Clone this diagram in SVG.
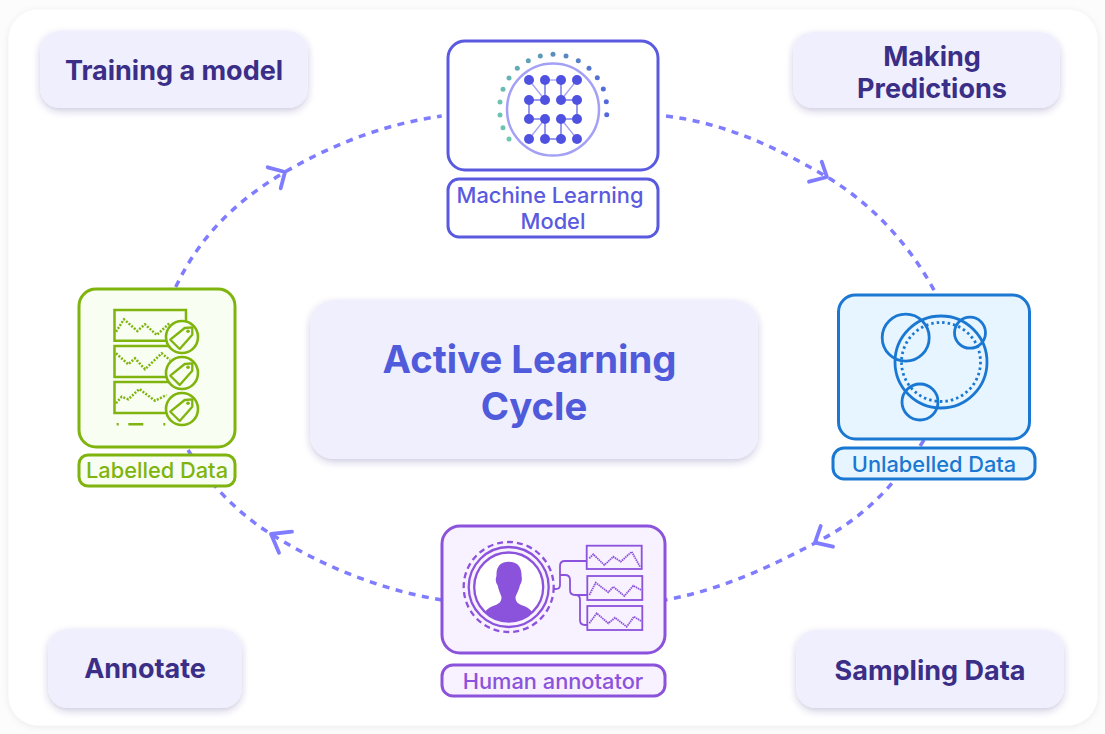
<svg xmlns="http://www.w3.org/2000/svg" xmlns:xlink="http://www.w3.org/1999/xlink" width="1105" height="734" viewBox="0 0 1105 734">
<style>
text{font-family:Inter,"Liberation Sans",sans-serif;text-anchor:middle}
.pill{fill:#F0EFFD;filter:url(#sh)}
.ptxt{font-size:27px;font-weight:700;fill:#3A2E87}
.ctxt{font-size:38.300px;font-weight:700;fill:#4F5BDB}
.lbl{font-size:21.800px;font-weight:500}
.arc{fill:none;stroke:#7F7CFF;stroke-width:3.500;stroke-dasharray:7 6.500}
.head{fill:none;stroke:#7F7CFF;stroke-width:3.800;stroke-linecap:round;stroke-linejoin:round}
.ml{fill:#fff;stroke:#5A5AE0;stroke-width:3}
.gr{fill:#F8FEF1;stroke:#7FB40E;stroke-width:3}
.bl{fill:#E6F5FF;stroke:#1A78D2;stroke-width:3}
.pu{fill:#F8F1FF;stroke:#8B52DB;stroke-width:3}
.gl{fill:none;stroke:#7FB40E;stroke-width:2.500}
.bc{fill:none;stroke:#1A78D2;stroke-width:2.800}
.pl{fill:none;stroke:#8B52DB;stroke-width:1.800}
.edge{stroke:#A3A0F5;stroke-width:1.300}
.edged{stroke:#6565E4;stroke-width:1.300}
.net{fill:#4F52E0}
</style>
<defs>
<filter id="sh" x="-10%" y="-15%" width="120%" height="135%"><feDropShadow dx="0" dy="3" stdDeviation="3.500" flood-color="#3A2E87" flood-opacity="0.25"/></filter>
<filter id="sf" x="-5%" y="-5%" width="110%" height="110%"><feDropShadow dx="0" dy="1" stdDeviation="3" flood-color="#000" flood-opacity="0.08"/></filter>
<g id="tag"><circle r="16" fill="#F8FEF1" stroke="#7FB40E" stroke-width="2.600"/><path d="M-11.700 2.700L2.700-9L10.300-9.700V-2.300L-2.300 12Z" fill="#F8FEF1" stroke="#7FB40E" stroke-width="2.300" stroke-linejoin="round"/><circle cx="6" cy="-5.700" r="1.800" fill="#7FB40E"/></g>
</defs>
<rect width="1105" height="734" fill="#FCFCFC"/>
<rect x="8.500" y="9.500" width="1089" height="716" rx="30" fill="#fff" filter="url(#sf)"/>
<g id="connectors">
<path class="arc" d="M175.700 287C198 240 232 203 285 172C333 144 385 124 441.700 116"/>
<path class="head" d="M267.700 167.300L285 172L280.700 188.300"/>
<path class="arc" d="M666 116C725 123 778 148 827 177C872 204 910 245 935 292"/>
<path class="head" d="M821.700 161.700L827 177L809 181.700"/>
<path class="arc" d="M924 440C892 490 860 520 815 543C768 568 720 590 665 600"/>
<path class="head" d="M820.700 526L815 542.700L833 546.700"/>
<path class="arc" d="M442 600C380 590 320 565 271 534C240 515 210 485 188 450"/>
<path class="head" d="M292 531.700L271 534L279 552.700"/>
</g>
<g id="training"><rect class="pill" x="40" y="31" width="268" height="77" rx="20"/><text class="ptxt" x="174" y="80">Training a model</text></g>
<g id="making"><rect class="pill" x="793" y="32" width="267" height="76" rx="20"/><text class="ptxt" x="932" y="66">Making</text><text class="ptxt" x="932" y="98">Predictions</text></g>
<g id="annotate"><rect class="pill" x="48" y="629" width="194" height="79" rx="20"/><text class="ptxt" x="145" y="678">Annotate</text></g>
<g id="sampling"><rect class="pill" x="796" y="630" width="268" height="78" rx="20"/><text class="ptxt" x="930" y="680">Sampling Data</text></g>
<g id="center"><rect class="pill" x="310" y="300" width="448" height="159" rx="24"/><text class="ctxt" x="529.500" y="373">Active Learning</text><text class="ctxt" x="534" y="420">Cycle</text></g>
<g id="ml-model">
<rect class="ml" x="448" y="41" width="210" height="129" rx="17"/>
<circle cx="553" cy="109.500" r="46" fill="none" stroke="#A3A0F5" stroke-width="2.500"/>
<g>
<circle cx="509" cy="139" r="2.500" fill="#6CC9B0"/><circle cx="503" cy="127.700" r="2.500" fill="#6CC4B0"/><circle cx="500" cy="115" r="2.500" fill="#6CC4B0"/><circle cx="500" cy="102" r="2.500" fill="#6CC4B0"/><circle cx="503" cy="89.300" r="2.500" fill="#68BCB2"/><circle cx="509" cy="78" r="2.500" fill="#66B4B4"/><circle cx="517.300" cy="68.300" r="2.500" fill="#62ACB6"/><circle cx="528.300" cy="60.700" r="2.500" fill="#5FA2B8"/><circle cx="540.300" cy="56" r="2.500" fill="#5C9ABA"/><circle cx="553" cy="54.300" r="2.500" fill="#5A90BE"/><circle cx="566" cy="56" r="2.500" fill="#5888C2"/><circle cx="578.300" cy="60.700" r="2.500" fill="#5680C8"/><circle cx="589" cy="68.300" r="2.500" fill="#5578CE"/><circle cx="597.300" cy="77.700" r="2.500" fill="#5472D4"/><circle cx="603.300" cy="89" r="2.500" fill="#536CD8"/><circle cx="606.300" cy="101.700" r="2.500" fill="#5268DC"/><circle cx="606.700" cy="114.700" r="2.500" fill="#5268DC"/>
</g>
<g class="edge"><line x1="529" y1="80" x2="545" y2="100"/><line x1="545" y1="80" x2="561" y2="80"/><line x1="577" y1="80" x2="561" y2="100"/><line x1="545" y1="119" x2="529" y2="139"/><line x1="561" y1="119" x2="577" y2="139"/></g>
<g class="edged"><line x1="545" y1="80" x2="545" y2="100"/><line x1="561" y1="80" x2="561" y2="100"/><line x1="529" y1="100" x2="545" y2="100"/><line x1="561" y1="100" x2="577" y2="100"/><line x1="529" y1="100" x2="529" y2="119"/><line x1="577" y1="100" x2="577" y2="119"/><line x1="529" y1="119" x2="545" y2="119"/><line x1="561" y1="119" x2="577" y2="119"/><line x1="545" y1="119" x2="545" y2="139"/><line x1="561" y1="119" x2="561" y2="139"/><line x1="545" y1="139" x2="561" y2="139"/></g>
<g class="net"><circle cx="529" cy="80" r="5"/><circle cx="545" cy="80" r="5"/><circle cx="561" cy="80" r="5"/><circle cx="577" cy="80" r="5"/><circle cx="529" cy="100" r="5"/><circle cx="545" cy="100" r="5"/><circle cx="561" cy="100" r="5"/><circle cx="577" cy="100" r="5"/><circle cx="529" cy="119" r="5"/><circle cx="545" cy="119" r="5"/><circle cx="561" cy="119" r="5"/><circle cx="577" cy="119" r="5"/><circle cx="529" cy="139" r="5"/><circle cx="545" cy="139" r="5"/><circle cx="561" cy="139" r="5"/><circle cx="577" cy="139" r="5"/></g>
<rect class="ml" x="448" y="179" width="210" height="58" rx="11"/>
<text class="lbl" x="550" y="203" fill="#5A5AE0">Machine Learning</text><text class="lbl" x="553" y="229" fill="#5A5AE0">Model</text>
</g>
<g id="labelled-data">
<rect class="gr" x="79" y="289" width="156" height="158" rx="17"/>
<path class="gl" d="M172 340.700H114.500V310H186V322M172 377H114.500V346H172M172 413H114.500V382H172"/>
<g class="gl" stroke-dasharray="2 1.500"><polyline points="116,331.700 124,319.300 137.300,331 145,324.300 156.700,335 170,322.700"/><polyline points="116,353.300 128.300,364.300 135,358.300 145,369.300 161.700,353.300 170,360"/><polyline points="116,403.300 121.700,396.700 128.300,399.300 139.300,389 155,400.700 166.700,395"/></g>
<use href="#tag" x="182" y="337"/><use href="#tag" x="182" y="373"/><use href="#tag" x="182" y="409"/>
<path class="gl" d="M116.700 424.300H118.700M128.300 424.300H143.300M163.300 424.300H165.300"/>
<rect class="gr" x="79" y="455" width="156" height="31" rx="9"/>
<text class="lbl" x="157" y="478" fill="#7FB40E">Labelled Data</text>
</g>
<g id="unlabelled-data">
<rect class="bl" x="838.500" y="295" width="191" height="144" rx="17"/>
<circle class="bc" cx="941" cy="362" r="46"/>
<circle class="bc" cx="941" cy="362" r="39.500" stroke-dasharray="2.500 3"/>
<circle class="bc" cx="905.700" cy="337.700" r="23.500"/>
<circle class="bc" cx="970" cy="332.700" r="15.500"/>
<circle class="bc" cx="920" cy="402" r="18"/>
<rect class="bl" x="833" y="448" width="202" height="31" rx="11"/>
<text class="lbl" x="934" y="472" fill="#1A78D2">Unlabelled Data</text>
</g>
<g id="human-annotator">
<rect class="pu" x="442" y="526" width="223" height="127" rx="18"/>
<circle cx="508.700" cy="587" r="45" fill="none" stroke="#8B52DB" stroke-width="2.300" stroke-dasharray="6 4"/>
<circle cx="508.700" cy="587" r="40" fill="none" stroke="#8B52DB" stroke-width="2.300"/>
<circle cx="508.700" cy="587" r="34.500" fill="#fff" stroke="#8B52DB" stroke-width="2.300"/>
<path fill="#8B52DB" d="M496.500 576C496 566 501 561.700 508.700 561.700C516.500 561.700 522 566 521.500 576C522.500 579 521.500 583 520 585C519 590 516.500 594 515.500 597C515.500 602 518 604 524 606C528 607.500 530.500 609.500 532 612C525.500 618.500 517.500 621.700 508.700 621.700C500 621.700 491.500 618.500 485 612C486.500 609.500 489 607.500 493 606C499 604 501.500 602 501.500 597C500.500 594 498.500 590 497.500 585C496 583 495 579 496.500 576Z"/>
<path class="pl" d="M553 589H556Q560 589 560 585V566Q560 561 565 561H587M560 575H565Q570 575 570 580V590Q570 595 575 595H587M576 595Q580 595 580 600V620Q580 625 585 625H587" stroke-width="2"/>
<rect class="pl" x="586.700" y="545.700" width="55" height="23.300"/><rect class="pl" x="587.300" y="576" width="55" height="24"/><rect class="pl" x="587.300" y="606" width="55" height="24"/>
<polyline class="pl" stroke-dasharray="1.500 0.700" points="589.300,558.300 593.300,554.300 604.300,565 613.300,556.700 620.700,561.700 631.700,551.700 640,566.700"/>
<polyline class="pl" stroke-dasharray="1.500 0.700" points="589.300,595 595.700,582.700 608.300,592.300 613.300,586.700 624.300,596 633.300,585.700 641,590"/>
<polyline class="pl" stroke-dasharray="1.500 0.700" points="589.300,623.300 596.700,613.300 608.300,623.300 615,617.700 626.700,626.700 634,616.700 641,621"/>
<rect class="pu" x="442" y="665" width="223" height="31" rx="11"/>
<text class="lbl" x="553" y="689" fill="#8B52DB">Human annotator</text>
</g>
</svg>
